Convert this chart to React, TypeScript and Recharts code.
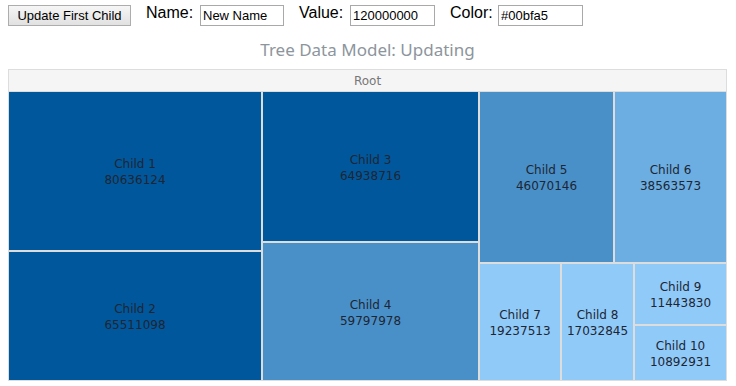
import { Treemap } from 'recharts';

const names = ['Child 1', 'Child 2', 'Child 3', 'Child 4', 'Child 5', 'Child 6', 'Child 7', 'Child 8', 'Child 9', 'Child 10'];
const sizes = [80636124, 65511098, 64938716, 59797978, 46070146, 38563573, 19237513, 17032845, 11443830, 10892931];
const colors = ['#01579b', '#01579b', '#01579b', '#4a90c8', '#4a90c8', '#6caee2', '#90caf9', '#90caf9', '#90caf9', '#90caf9'];

const data = names.map((name, i) => ({ name, size: sizes[i], color: colors[i] }));

const Cell = (props: any) => {
  const { x, y, width, height, depth, name, value, color } = props;
  if (depth === 0) {
    return <rect x={x} y={y} width={width} height={height} fill="#dddddd" />;
  }
  const cx = x + width / 2;
  const cy = y + height / 2;
  return (
    <g>
      <rect x={x} y={y} width={width} height={height} fill={color} stroke="#dddddd" strokeWidth={2} />
      <text x={cx} y={cy - 3} textAnchor="middle" fill="#1e2633" fontSize={12} fontFamily="DejaVu Sans">
        {name}
      </text>
      <text x={cx} y={cy + 13} textAnchor="middle" fill="#1e2633" fontSize={12} fontFamily="DejaVu Sans">
        {value}
      </text>
    </g>
  );
};

const label: React.CSSProperties = {
  position: 'absolute',
  top: 4,
  fontFamily: 'Liberation Sans',
  fontSize: 16,
  color: '#000',
};

const input: React.CSSProperties = {
  position: 'absolute',
  top: 5,
  height: 21,
  boxSizing: 'border-box',
  border: '1px solid #a9a9a9',
  padding: '0 2px',
  fontFamily: 'Liberation Sans',
  fontSize: 13,
  margin: 0,
};

export default function App() {
  return (
    <div style={{ position: 'fixed', left: 0, top: 0, width: 736, height: 386, background: '#fff' }}>
      <button
        style={{
          position: 'absolute',
          left: 8,
          top: 5,
          width: 123,
          height: 21,
          margin: 0,
          padding: 0,
          border: '1px solid #adadad',
          background: 'linear-gradient(#f6f6f6, #e1e1e1)',
          fontFamily: 'Liberation Sans',
          fontSize: 13,
          color: '#000',
        }}
      >
        Update First Child
      </button>
      <span style={{ ...label, left: 146 }}>Name:</span>
      <input style={{ ...input, left: 200, width: 84 }} defaultValue="New Name" />
      <span style={{ ...label, left: 299 }}>Value:</span>
      <input style={{ ...input, left: 350, width: 85 }} defaultValue="120000000" />
      <span style={{ ...label, left: 450 }}>Color:</span>
      <input style={{ ...input, left: 498, width: 85 }} defaultValue="#00bfa5" />

      <div
        style={{
          position: 'absolute',
          left: 8,
          top: 38,
          width: 719,
          textAlign: 'center',
          fontFamily: 'Noto Sans',
          fontSize: 17,
          color: '#8d959d',
        }}
      >
        Tree Data Model: Updating
      </div>

      <div
        style={{
          position: 'absolute',
          left: 8,
          top: 69,
          width: 719,
          height: 22,
          boxSizing: 'border-box',
          border: '1px solid #dddddd',
          borderBottom: 'none',
          background: '#f5f5f5',
          textAlign: 'center',
          lineHeight: '22px',
          fontFamily: 'DejaVu Sans',
          fontSize: 12,
          color: '#777',
        }}
      >
        Root
      </div>

      <div style={{ position: 'absolute', left: 8, top: 91 }}>
        <Treemap
          width={719}
          height={290}
          data={data}
          dataKey="size"
          nameKey="name"
          aspectRatio={1}
          content={<Cell />}
          isAnimationActive={false}
        />
      </div>
    </div>
  );
}
